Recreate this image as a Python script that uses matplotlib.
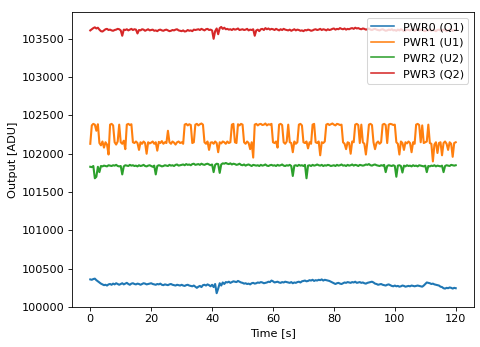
import numpy as np
import matplotlib
matplotlib.use("Agg")
import matplotlib.pyplot as plt

# sample times (0.5 s spacing, 0 .. 120 s)
time_s = np.arange(241) * 0.5

pwr0_q1 = [
    100360, 100355, 100365, 100370, 100350, 100335,
    100320, 100305, 100295, 100285, 100290, 100280,
    100295, 100300, 100290, 100305, 100295, 100310, 100300, 100290,
    100300, 100310, 100295, 100305, 100315, 100300, 100290, 100305, 100310, 100300,
    100295, 100305, 100300, 100290, 100300, 100310, 100305, 100295, 100300, 100305,
    100310, 100300, 100295, 100290, 100300, 100295, 100305, 100290, 100285, 100295,
    100290, 100285, 100295, 100300, 100290, 100285, 100280, 100290, 100285, 100280,
    100290, 100280, 100275, 100285, 100290, 100280, 100275, 100270, 100280, 100265,
    100250, 100265, 100275, 100260, 100285, 100290, 100280, 100295, 100285, 100270,
    100290, 100260, 100300, 100180, 100240, 100310, 100280, 100320, 100300, 100325,
    100320, 100330, 100315, 100325, 100335, 100330, 100325, 100340, 100330, 100320,
    100315, 100305, 100310, 100300, 100305, 100295, 100310, 100315, 100305, 100310,
    100320, 100315, 100325, 100320, 100310, 100315, 100320, 100330, 100325, 100345,
    100335, 100320, 100325, 100330, 100320, 100315, 100325, 100320, 100330, 100325,
    100320, 100315, 100325, 100310, 100320, 100315, 100325, 100330, 100320, 100335,
    100340, 100345, 100335, 100340, 100350, 100345, 100355, 100340, 100350, 100345,
    100355, 100350, 100360, 100345, 100355, 100350, 100345, 100340, 100330, 100320,
    100310, 100300, 100310, 100315, 100305, 100300, 100310, 100320, 100315, 100325,
    100320, 100315, 100325, 100320, 100330, 100315, 100320, 100325, 100315, 100320,
    100310, 100305, 100315, 100320, 100325, 100330, 100320, 100305, 100300, 100290,
    100295, 100300, 100290, 100285, 100280, 100290, 100295, 100285, 100275, 100270,
    100280, 100270, 100275, 100265, 100270, 100280, 100275, 100265, 100270, 100275,
    100270, 100280, 100275, 100270, 100275, 100280, 100275, 100270, 100265, 100280,
    100300, 100320, 100315, 100310, 100300, 100305, 100295, 100290, 100285, 100280,
    100265, 100260, 100245, 100240, 100250, 100245, 100255, 100250, 100240, 100250,
    100245,
]

pwr1_u1 = [
    102130, 102370, 102390, 102380, 102300, 102385, 102140, 102110, 102160, 102080,
    102150, 102120, 101990, 102380, 102390, 102370, 102150, 102120, 102160, 102380,
    102150, 102130, 102170, 102060, 102380, 102390, 102375, 102385, 102150, 102140,
    102160, 102140, 102050, 102150, 102130, 102160, 102140, 102000, 102150, 102135,
    102145, 102160, 102130, 102150, 102040, 102155, 102140, 102165, 102130, 102150,
    102140, 102300, 102150, 102130, 102160, 102145, 102120, 102150, 102160, 102140,
    102150, 102130, 102380, 102390, 102370, 102385, 102375, 102140, 102150, 102380,
    102390, 102370, 102385, 102395, 102380, 102150, 102130, 102160, 102050, 102145,
    102150, 102130, 102160, 102140, 102020, 102150, 102135, 102160, 102150, 102130,
    102160, 102140, 102150, 102380, 102390, 102150, 102140, 102385, 102370, 102390,
    102380, 102150, 102130, 102160, 102140, 102060, 102150, 101950, 102380, 102390,
    102370, 102385, 102390, 102375, 102380, 102395, 102370, 102385, 102380, 102390,
    102150, 102140, 102160, 102080, 102380, 102390, 102375, 102150, 102130, 102160,
    102380, 102150, 102140, 102020, 102160, 102130, 102150, 102380, 102390, 102370,
    102150, 102140, 102160, 102070, 102150, 102130, 102380, 102390, 102150, 102140,
    102160, 101980, 102150, 102140, 102160, 102380, 102390, 102375, 102385, 102395,
    102380, 102370, 102390, 102385, 102375, 102380, 102150, 102130, 102060, 102150,
    102140, 102000, 102160, 102150, 102380, 102390, 102375, 102140, 102380, 102150,
    102130, 101990, 102160, 102380, 102390, 102375, 102150, 102060, 102140, 102160,
    102130, 102150, 102380, 102390, 102375, 102140, 102380, 102390, 102385, 102375,
    102380, 102150, 102130, 101990, 102160, 102140, 102050, 102150, 102135, 102160,
    102140, 102020, 102150, 102130, 102380, 102390, 102375, 102150, 102370, 102140,
    102150, 102160, 102380, 102140, 102130, 101900, 102120, 102150, 102010, 102140,
    102150, 101980, 102140, 102160, 102130, 102050, 102150, 102130, 101960, 102140,
    102150,
]

pwr2_u2 = [
    101830, 101825, 101840, 101680, 101700, 101830, 101760, 101840, 101835, 101845,
    101840, 101835, 101850, 101845, 101840, 101850, 101845, 101855, 101840, 101835,
    101840, 101730, 101835, 101850, 101845, 101840, 101855, 101845, 101850, 101840,
    101845, 101835, 101850, 101840, 101845, 101855, 101840, 101835, 101845, 101850,
    101840, 101830, 101845, 101730, 101840, 101850, 101845, 101835, 101840, 101850,
    101845, 101840, 101855, 101845, 101850, 101840, 101855, 101860, 101845, 101850,
    101855, 101860, 101850, 101865, 101855, 101860, 101850, 101865, 101870, 101855,
    101860, 101865, 101855, 101870, 101860, 101855, 101865, 101870, 101860, 101850,
    101860, 101760, 101855, 101870, 101865, 101750, 101860, 101875, 101870, 101880,
    101870, 101865, 101875, 101860, 101870, 101865, 101855, 101860, 101870, 101855,
    101850, 101860, 101845, 101855, 101860, 101850, 101840, 101855, 101850, 101845,
    101850, 101840, 101855, 101845, 101850, 101860, 101845, 101840, 101850, 101855,
    101845, 101850, 101840, 101855, 101845, 101850, 101860, 101845, 101840, 101850,
    101845, 101855, 101840, 101710, 101845, 101850, 101840, 101855, 101845, 101850,
    101840, 101855, 101680, 101845, 101850, 101840, 101855, 101845, 101850, 101860,
    101850, 101845, 101855, 101840, 101850, 101845, 101855, 101850, 101840, 101845,
    101850, 101840, 101855, 101845, 101850, 101860, 101845, 101850, 101840, 101855,
    101845, 101850, 101860, 101845, 101855, 101850, 101840, 101855, 101850, 101845,
    101850, 101860, 101855, 101865, 101850, 101845, 101855, 101860, 101850, 101845,
    101840, 101850, 101845, 101855, 101760, 101840, 101850, 101845, 101840, 101850,
    101840, 101700, 101845, 101850, 101840, 101755, 101845, 101835, 101850, 101840,
    101845, 101835, 101850, 101840, 101845, 101835, 101850, 101845, 101840, 101835,
    101845, 101760, 101840, 101835, 101845, 101840, 101850, 101835, 101845, 101840,
    101835, 101845, 101760, 101840, 101850, 101845, 101840, 101855, 101850, 101845,
    101850,
]

pwr3_q2 = [
    103610, 103625, 103640, 103650, 103635, 103645, 103620, 103600, 103595, 103610,
    103625, 103630, 103615, 103620, 103610, 103605, 103615, 103620, 103630, 103625,
    103610, 103540, 103620, 103615, 103625, 103610, 103620, 103630, 103615, 103625,
    103620, 103570, 103615, 103610, 103625, 103620, 103605, 103615, 103625, 103610,
    103615, 103620, 103605, 103610, 103600, 103615, 103620, 103610, 103605, 103615,
    103620, 103610, 103600, 103605, 103615, 103610, 103620, 103625, 103610, 103605,
    103600, 103610, 103595, 103600, 103615, 103605, 103610, 103600, 103620, 103615,
    103620, 103625, 103615, 103630, 103620, 103610, 103625, 103630, 103615, 103620,
    103610, 103500, 103600, 103635, 103560, 103640, 103655, 103630, 103645, 103625,
    103630, 103620, 103625, 103615, 103630, 103620, 103625, 103635, 103615, 103620,
    103625, 103615, 103620, 103630, 103610, 103620, 103615, 103625, 103540, 103610,
    103620, 103600, 103625, 103630, 103615, 103640, 103625, 103635, 103620, 103630,
    103625, 103615, 103630, 103620, 103610, 103625, 103615, 103630, 103620, 103615,
    103610, 103620, 103605, 103615, 103625, 103610, 103620, 103615, 103605, 103610,
    103600, 103615, 103610, 103620, 103615, 103605, 103610, 103620, 103625, 103615,
    103620, 103630, 103615, 103625, 103620, 103610, 103625, 103615, 103620, 103630,
    103635, 103620, 103630, 103625, 103640, 103630, 103625, 103635, 103620, 103630,
    103625, 103635, 103640, 103630, 103645, 103635, 103640, 103630, 103625, 103635,
    103630, 103620, 103625, 103635, 103620, 103615, 103625, 103630, 103620, 103615,
    103610, 103620, 103625, 103615, 103605, 103610, 103620, 103615, 103625, 103610,
    103615, 103605, 103620, 103610, 103625, 103615, 103600, 103610, 103620, 103615,
    103610, 103620, 103615, 103605, 103615, 103625, 103610, 103620, 103615, 103605,
    103600, 103615, 103610, 103620, 103605, 103615, 103610, 103600, 103615, 103620,
    103610, 103605, 103620, 103615, 103600, 103610, 103620, 103615, 103605, 103610,
    103615,
]

series = [pwr0_q1, pwr1_u1, pwr2_u2, pwr3_q2]
labels = ["PWR0 (Q1)", "PWR1 (U1)", "PWR2 (U2)", "PWR3 (Q2)"]

plt.rcParams["font.size"] = 10.8

fig = plt.figure(figsize=(6.4, 347 / 75), dpi=75)
ax = fig.add_axes([0.15, 0.1153, 0.8375, 0.8501])
for vals, lab in zip(series, labels):
    n = min(len(vals), len(time_s))
    ax.plot(time_s[:n], vals[:n], label=lab, linewidth=2.0)

ax.set_ylim(100000, 103850)
ax.set_xlabel("Time [s]")
ax.set_ylabel("Output [ADU]")
leg = ax.legend(loc="upper right")
for line in leg.get_lines():
    line.set_linewidth(1.5)
fig.savefig("out.png", dpi=75)
